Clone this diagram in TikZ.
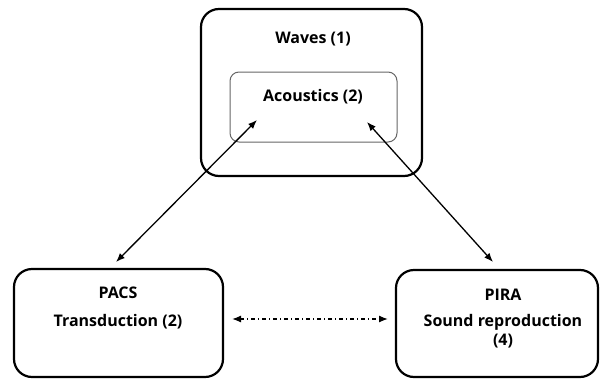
\documentclass[tikz,border=0pt]{standalone}
\usepackage{fontspec}
\setmainfont{Open Sans}
\usetikzlibrary{arrows.meta}
\begin{document}
\begin{tikzpicture}[x=1pt,y=-1pt,
  box/.style={draw=black,line width=2.2pt,rounded corners=18pt},
  inbox/.style={draw=black!60,line width=1pt,rounded corners=9pt},
  lbl/.style={font=\bfseries\fontsize{16}{19}\selectfont,inner sep=0pt,anchor=center},
  conn/.style={line width=1.3pt,{Latex[length=9pt,width=7pt]}-{Latex[length=9pt,width=7pt]}},
  dconn/.style={line width=1.3pt,dash pattern=on 4pt off 3pt on 1pt off 3pt,{Latex[length=9pt,width=7pt]}-{Latex[length=9pt,width=7pt]}}]
\useasboundingbox (0,0) rectangle (600,380);
\draw[box] (201,9) rectangle (422,176);
\node[lbl] (waves) at (313,39) {Waves (1)};
\draw[inbox] (230,72) rectangle (397,142);
\node[lbl] (acou) at (313,97) {Acoustics (2)};
\draw[box] (14,269) rectangle (223,377);
\node[lbl] (pacs) at (118,293) {PACS};
\node[lbl] (trans) at (118,322) {Transduction (2)};
\draw[box] (396,270) rectangle (598,377);
\node[lbl] (pira) at (503,295) {PIRA};
\node[lbl] (sound) at (503,322) {Sound reproduction};
\node[lbl] (four) at (503,341) {(4)};
\coordinate (a1) at (257,120);
\coordinate (a2) at (116,262);
\coordinate (b1) at (367,122);
\coordinate (b2) at (493,262);
\coordinate (c1) at (232,319);
\coordinate (c2) at (388,319);
\draw[conn] (a2) -- (a1);
\draw[conn] (b2) -- (b1);
\draw[dconn] (c1) -- (c2);
\end{tikzpicture}
\end{document}
